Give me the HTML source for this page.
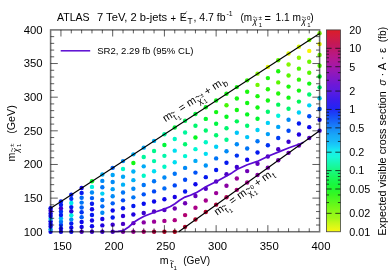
<!DOCTYPE html>
<html><head><meta charset="utf-8"><title>ATLAS stop search</title>
<style>html,body{margin:0;padding:0;background:#fff;overflow:hidden}svg{display:block;will-change:transform}</style></head>
<body>
<svg width="390" height="273" viewBox="0 0 390 273" font-family="'Liberation Sans', sans-serif" fill="#000">
<rect width="390" height="273" fill="#fff"/>
<g stroke="none">
<circle cx="50.60" cy="231.75" r="2.2" fill="#0d07eb"/>
<circle cx="50.60" cy="229.13" r="2.2" fill="#00a4f7"/>
<circle cx="50.60" cy="226.52" r="2.2" fill="#0d07eb"/>
<circle cx="50.60" cy="223.90" r="2.2" fill="#0d07eb"/>
<circle cx="50.60" cy="221.28" r="2.2" fill="#0d07eb"/>
<circle cx="50.60" cy="218.67" r="2.2" fill="#00b1f7"/>
<circle cx="50.60" cy="216.05" r="2.2" fill="#0d07eb"/>
<circle cx="50.60" cy="213.43" r="2.2" fill="#0d07eb"/>
<circle cx="50.60" cy="210.82" r="2.2" fill="#3a00d0"/>
<circle cx="50.60" cy="208.20" r="2.2" fill="#0d07eb"/>
<circle cx="60.95" cy="231.75" r="2.2" fill="#1305e7"/>
<circle cx="60.95" cy="228.39" r="2.2" fill="#0d07eb"/>
<circle cx="60.95" cy="225.02" r="2.2" fill="#0032f2"/>
<circle cx="60.95" cy="221.66" r="2.2" fill="#0075f7"/>
<circle cx="60.95" cy="218.29" r="2.2" fill="#00b1f7"/>
<circle cx="60.95" cy="214.93" r="2.2" fill="#0519ef"/>
<circle cx="60.95" cy="211.56" r="2.2" fill="#0032f2"/>
<circle cx="60.95" cy="208.20" r="2.2" fill="#3a00d0"/>
<circle cx="60.95" cy="204.84" r="2.2" fill="#0519ef"/>
<circle cx="60.95" cy="201.47" r="2.2" fill="#0519ef"/>
<circle cx="71.29" cy="231.75" r="2.2" fill="#0d07eb"/>
<circle cx="71.29" cy="227.64" r="2.2" fill="#0d07eb"/>
<circle cx="71.29" cy="223.53" r="2.2" fill="#0519ef"/>
<circle cx="71.29" cy="219.41" r="2.2" fill="#008af7"/>
<circle cx="71.29" cy="215.30" r="2.2" fill="#00f3dc"/>
<circle cx="71.29" cy="211.19" r="2.2" fill="#2800da"/>
<circle cx="71.29" cy="207.08" r="2.2" fill="#0519ef"/>
<circle cx="71.29" cy="202.97" r="2.2" fill="#00e9eb"/>
<circle cx="71.29" cy="198.86" r="2.2" fill="#0032f2"/>
<circle cx="71.29" cy="194.74" r="2.2" fill="#0519ef"/>
<circle cx="81.64" cy="231.75" r="2.2" fill="#4900c7"/>
<circle cx="81.64" cy="226.89" r="2.2" fill="#1305e7"/>
<circle cx="81.64" cy="222.03" r="2.2" fill="#0d07eb"/>
<circle cx="81.64" cy="217.17" r="2.2" fill="#005ef7"/>
<circle cx="81.64" cy="212.31" r="2.2" fill="#0032f2"/>
<circle cx="81.64" cy="207.45" r="2.2" fill="#005ef7"/>
<circle cx="81.64" cy="202.59" r="2.2" fill="#0075f7"/>
<circle cx="81.64" cy="197.73" r="2.2" fill="#006af7"/>
<circle cx="81.64" cy="192.88" r="2.2" fill="#0519ef"/>
<circle cx="81.64" cy="188.02" r="2.2" fill="#1305e7"/>
<circle cx="91.98" cy="231.75" r="2.2" fill="#3a00d0"/>
<circle cx="91.98" cy="226.14" r="2.2" fill="#0d07eb"/>
<circle cx="91.98" cy="220.54" r="2.2" fill="#1305e7"/>
<circle cx="91.98" cy="214.93" r="2.2" fill="#0519ef"/>
<circle cx="91.98" cy="209.32" r="2.2" fill="#1305e7"/>
<circle cx="91.98" cy="203.72" r="2.2" fill="#0519ef"/>
<circle cx="91.98" cy="198.11" r="2.2" fill="#005ef7"/>
<circle cx="91.98" cy="192.50" r="2.2" fill="#008af7"/>
<circle cx="91.98" cy="186.89" r="2.2" fill="#00f3dc"/>
<circle cx="91.98" cy="181.29" r="2.2" fill="#06f721"/>
<circle cx="102.33" cy="231.75" r="2.2" fill="#3a00d0"/>
<circle cx="102.33" cy="225.40" r="2.2" fill="#1f01e0"/>
<circle cx="102.33" cy="219.04" r="2.2" fill="#1903e4"/>
<circle cx="102.33" cy="212.69" r="2.2" fill="#008af7"/>
<circle cx="102.33" cy="206.33" r="2.2" fill="#006af7"/>
<circle cx="102.33" cy="199.98" r="2.2" fill="#0075f7"/>
<circle cx="102.33" cy="193.62" r="2.2" fill="#00d1f5"/>
<circle cx="102.33" cy="187.27" r="2.2" fill="#0075f7"/>
<circle cx="102.33" cy="180.91" r="2.2" fill="#008af7"/>
<circle cx="102.33" cy="174.56" r="2.2" fill="#00b1f7"/>
<circle cx="112.68" cy="231.75" r="2.2" fill="#4900c7"/>
<circle cx="112.68" cy="224.65" r="2.2" fill="#3a00d0"/>
<circle cx="112.68" cy="217.55" r="2.2" fill="#0519ef"/>
<circle cx="112.68" cy="210.44" r="2.2" fill="#0d07eb"/>
<circle cx="112.68" cy="203.34" r="2.2" fill="#005ef7"/>
<circle cx="112.68" cy="196.24" r="2.2" fill="#008af7"/>
<circle cx="112.68" cy="189.14" r="2.2" fill="#009ef7"/>
<circle cx="112.68" cy="182.04" r="2.2" fill="#008af7"/>
<circle cx="112.68" cy="174.93" r="2.2" fill="#00a4f7"/>
<circle cx="112.68" cy="167.83" r="2.2" fill="#005ef7"/>
<circle cx="123.02" cy="231.75" r="2.2" fill="#7c00ad"/>
<circle cx="123.02" cy="223.90" r="2.2" fill="#4900c7"/>
<circle cx="123.02" cy="216.05" r="2.2" fill="#2800da"/>
<circle cx="123.02" cy="208.20" r="2.2" fill="#0519ef"/>
<circle cx="123.02" cy="200.35" r="2.2" fill="#0048f6"/>
<circle cx="123.02" cy="192.50" r="2.2" fill="#0075f7"/>
<circle cx="123.02" cy="184.65" r="2.2" fill="#00b1f7"/>
<circle cx="123.02" cy="176.80" r="2.2" fill="#00a4f7"/>
<circle cx="123.02" cy="168.95" r="2.2" fill="#00f7c6"/>
<circle cx="123.02" cy="161.10" r="2.2" fill="#008af7"/>
<circle cx="133.37" cy="231.75" r="2.2" fill="#9b0099"/>
<circle cx="133.37" cy="223.15" r="2.2" fill="#6a00b9"/>
<circle cx="133.37" cy="214.56" r="2.2" fill="#1f01e0"/>
<circle cx="133.37" cy="205.96" r="2.2" fill="#0519ef"/>
<circle cx="133.37" cy="197.36" r="2.2" fill="#0075f7"/>
<circle cx="133.37" cy="188.76" r="2.2" fill="#008af7"/>
<circle cx="133.37" cy="180.17" r="2.2" fill="#00b1f7"/>
<circle cx="133.37" cy="171.57" r="2.2" fill="#00b1f7"/>
<circle cx="133.37" cy="162.97" r="2.2" fill="#13f714"/>
<circle cx="133.37" cy="154.37" r="2.2" fill="#00b1f7"/>
<circle cx="143.72" cy="231.75" r="2.2" fill="#b10070"/>
<circle cx="143.72" cy="222.41" r="2.2" fill="#8900a4"/>
<circle cx="143.72" cy="213.06" r="2.2" fill="#3a00d0"/>
<circle cx="143.72" cy="203.72" r="2.2" fill="#070cee"/>
<circle cx="143.72" cy="194.37" r="2.2" fill="#0053f7"/>
<circle cx="143.72" cy="185.03" r="2.2" fill="#0075f7"/>
<circle cx="143.72" cy="175.68" r="2.2" fill="#00f7c6"/>
<circle cx="143.72" cy="166.34" r="2.2" fill="#00aaf7"/>
<circle cx="143.72" cy="156.99" r="2.2" fill="#00f79c"/>
<circle cx="143.72" cy="147.65" r="2.2" fill="#00a4f7"/>
<circle cx="154.06" cy="231.75" r="2.2" fill="#ad003d"/>
<circle cx="154.06" cy="221.66" r="2.2" fill="#9b0099"/>
<circle cx="154.06" cy="211.56" r="2.2" fill="#5200c4"/>
<circle cx="154.06" cy="201.47" r="2.2" fill="#0d07eb"/>
<circle cx="154.06" cy="191.38" r="2.2" fill="#0048f6"/>
<circle cx="154.06" cy="181.29" r="2.2" fill="#0075f7"/>
<circle cx="154.06" cy="171.19" r="2.2" fill="#00def1"/>
<circle cx="154.06" cy="161.10" r="2.2" fill="#00f7aa"/>
<circle cx="154.06" cy="151.01" r="2.2" fill="#00f78d"/>
<circle cx="154.06" cy="140.92" r="2.2" fill="#00b1f7"/>
<circle cx="164.41" cy="231.75" r="2.2" fill="#b00023"/>
<circle cx="164.41" cy="220.91" r="2.2" fill="#a5008e"/>
<circle cx="164.41" cy="210.07" r="2.2" fill="#5200c4"/>
<circle cx="164.41" cy="199.23" r="2.2" fill="#0d07eb"/>
<circle cx="164.41" cy="188.39" r="2.2" fill="#006af7"/>
<circle cx="164.41" cy="177.55" r="2.2" fill="#008af7"/>
<circle cx="164.41" cy="166.71" r="2.2" fill="#00f7c6"/>
<circle cx="164.41" cy="155.87" r="2.2" fill="#00f7aa"/>
<circle cx="164.41" cy="145.03" r="2.2" fill="#00f739"/>
<circle cx="164.41" cy="134.19" r="2.2" fill="#00f79c"/>
<circle cx="174.75" cy="231.75" r="2.2" fill="#b3001c"/>
<circle cx="174.75" cy="220.16" r="2.2" fill="#ad0082"/>
<circle cx="174.75" cy="208.57" r="2.2" fill="#6f00b5"/>
<circle cx="174.75" cy="196.99" r="2.2" fill="#1903e4"/>
<circle cx="174.75" cy="185.40" r="2.2" fill="#0048f6"/>
<circle cx="174.75" cy="173.81" r="2.2" fill="#0075f7"/>
<circle cx="174.75" cy="162.22" r="2.2" fill="#00def1"/>
<circle cx="174.75" cy="150.64" r="2.2" fill="#00def1"/>
<circle cx="174.75" cy="139.05" r="2.2" fill="#00f7c6"/>
<circle cx="174.75" cy="127.46" r="2.2" fill="#00f739"/>
<circle cx="185.10" cy="226.87" r="2.2" fill="#ad0029"/>
<circle cx="185.10" cy="215.08" r="2.2" fill="#b10070"/>
<circle cx="185.10" cy="203.29" r="2.2" fill="#6f00b5"/>
<circle cx="185.10" cy="191.49" r="2.2" fill="#0519ef"/>
<circle cx="185.10" cy="179.70" r="2.2" fill="#0048f6"/>
<circle cx="185.10" cy="167.91" r="2.2" fill="#008af7"/>
<circle cx="185.10" cy="156.11" r="2.2" fill="#00f7d4"/>
<circle cx="185.10" cy="144.32" r="2.2" fill="#00f76f"/>
<circle cx="185.10" cy="132.53" r="2.2" fill="#00f79c"/>
<circle cx="185.10" cy="120.73" r="2.2" fill="#00f758"/>
<circle cx="195.45" cy="219.47" r="2.2" fill="#ad0029"/>
<circle cx="195.45" cy="207.75" r="2.2" fill="#aa0088"/>
<circle cx="195.45" cy="196.03" r="2.2" fill="#6200be"/>
<circle cx="195.45" cy="184.32" r="2.2" fill="#0d07eb"/>
<circle cx="195.45" cy="172.60" r="2.2" fill="#0053f7"/>
<circle cx="195.45" cy="160.88" r="2.2" fill="#00aaf7"/>
<circle cx="195.45" cy="149.16" r="2.2" fill="#00f7d4"/>
<circle cx="195.45" cy="137.44" r="2.2" fill="#06f721"/>
<circle cx="195.45" cy="125.72" r="2.2" fill="#00f76f"/>
<circle cx="195.45" cy="114.00" r="2.2" fill="#00f739"/>
<circle cx="205.79" cy="212.07" r="2.2" fill="#ad0029"/>
<circle cx="205.79" cy="200.43" r="2.2" fill="#a5008e"/>
<circle cx="205.79" cy="188.78" r="2.2" fill="#5200c4"/>
<circle cx="205.79" cy="177.14" r="2.2" fill="#0519ef"/>
<circle cx="205.79" cy="165.49" r="2.2" fill="#0094f7"/>
<circle cx="205.79" cy="153.85" r="2.2" fill="#00def1"/>
<circle cx="205.79" cy="142.21" r="2.2" fill="#00f7c6"/>
<circle cx="205.79" cy="130.56" r="2.2" fill="#00f76f"/>
<circle cx="205.79" cy="118.92" r="2.2" fill="#00f72f"/>
<circle cx="205.79" cy="107.28" r="2.2" fill="#06f721"/>
<circle cx="216.14" cy="204.67" r="2.2" fill="#a90036"/>
<circle cx="216.14" cy="193.10" r="2.2" fill="#9b0099"/>
<circle cx="216.14" cy="181.53" r="2.2" fill="#5200c4"/>
<circle cx="216.14" cy="169.96" r="2.2" fill="#0519ef"/>
<circle cx="216.14" cy="158.39" r="2.2" fill="#0075f7"/>
<circle cx="216.14" cy="146.82" r="2.2" fill="#00d1f5"/>
<circle cx="216.14" cy="135.25" r="2.2" fill="#00f76f"/>
<circle cx="216.14" cy="123.69" r="2.2" fill="#00f742"/>
<circle cx="216.14" cy="112.12" r="2.2" fill="#13f714"/>
<circle cx="216.14" cy="100.55" r="2.2" fill="#0af71a"/>
<circle cx="226.48" cy="197.27" r="2.2" fill="#b10054"/>
<circle cx="226.48" cy="185.77" r="2.2" fill="#8900a4"/>
<circle cx="226.48" cy="174.28" r="2.2" fill="#4900c7"/>
<circle cx="226.48" cy="162.78" r="2.2" fill="#0519ef"/>
<circle cx="226.48" cy="151.29" r="2.2" fill="#008af7"/>
<circle cx="226.48" cy="139.80" r="2.2" fill="#00f78d"/>
<circle cx="226.48" cy="128.30" r="2.2" fill="#00f76f"/>
<circle cx="226.48" cy="116.81" r="2.2" fill="#06f721"/>
<circle cx="226.48" cy="105.31" r="2.2" fill="#44f707"/>
<circle cx="226.48" cy="93.82" r="2.2" fill="#13f714"/>
<circle cx="236.83" cy="189.87" r="2.2" fill="#b1007c"/>
<circle cx="236.83" cy="178.45" r="2.2" fill="#9b0099"/>
<circle cx="236.83" cy="167.03" r="2.2" fill="#3a00d0"/>
<circle cx="236.83" cy="155.61" r="2.2" fill="#0032f2"/>
<circle cx="236.83" cy="144.19" r="2.2" fill="#008af7"/>
<circle cx="236.83" cy="132.77" r="2.2" fill="#00c6f7"/>
<circle cx="236.83" cy="121.35" r="2.2" fill="#00f758"/>
<circle cx="236.83" cy="109.93" r="2.2" fill="#13f714"/>
<circle cx="236.83" cy="98.51" r="2.2" fill="#13f714"/>
<circle cx="236.83" cy="87.09" r="2.2" fill="#13f714"/>
<circle cx="247.18" cy="182.46" r="2.2" fill="#a5008e"/>
<circle cx="247.18" cy="171.12" r="2.2" fill="#6f00b5"/>
<circle cx="247.18" cy="159.78" r="2.2" fill="#0d07eb"/>
<circle cx="247.18" cy="148.43" r="2.2" fill="#0075f7"/>
<circle cx="247.18" cy="137.09" r="2.2" fill="#00c6f7"/>
<circle cx="247.18" cy="125.74" r="2.2" fill="#00f76f"/>
<circle cx="247.18" cy="114.40" r="2.2" fill="#06f721"/>
<circle cx="247.18" cy="103.05" r="2.2" fill="#13f714"/>
<circle cx="247.18" cy="91.71" r="2.2" fill="#1cf70e"/>
<circle cx="247.18" cy="80.36" r="2.2" fill="#2ff709"/>
<circle cx="257.52" cy="175.06" r="2.2" fill="#8900a4"/>
<circle cx="257.52" cy="163.79" r="2.2" fill="#6200be"/>
<circle cx="257.52" cy="152.52" r="2.2" fill="#0519ef"/>
<circle cx="257.52" cy="141.25" r="2.2" fill="#0075f7"/>
<circle cx="257.52" cy="129.98" r="2.2" fill="#00d1f5"/>
<circle cx="257.52" cy="118.71" r="2.2" fill="#00f72f"/>
<circle cx="257.52" cy="107.44" r="2.2" fill="#13f714"/>
<circle cx="257.52" cy="96.17" r="2.2" fill="#1cf70e"/>
<circle cx="257.52" cy="84.90" r="2.2" fill="#6ff700"/>
<circle cx="257.52" cy="73.63" r="2.2" fill="#84f700"/>
<circle cx="267.87" cy="167.66" r="2.2" fill="#7c00ad"/>
<circle cx="267.87" cy="156.47" r="2.2" fill="#5200c4"/>
<circle cx="267.87" cy="145.27" r="2.2" fill="#0032f2"/>
<circle cx="267.87" cy="134.08" r="2.2" fill="#009ef7"/>
<circle cx="267.87" cy="122.88" r="2.2" fill="#00d1f5"/>
<circle cx="267.87" cy="111.69" r="2.2" fill="#00f76f"/>
<circle cx="267.87" cy="100.49" r="2.2" fill="#13f714"/>
<circle cx="267.87" cy="89.30" r="2.2" fill="#24f709"/>
<circle cx="267.87" cy="78.10" r="2.2" fill="#1cf70e"/>
<circle cx="267.87" cy="66.91" r="2.2" fill="#def700"/>
<circle cx="278.22" cy="160.26" r="2.2" fill="#7500b0"/>
<circle cx="278.22" cy="149.14" r="2.2" fill="#4900c7"/>
<circle cx="278.22" cy="138.02" r="2.2" fill="#003df4"/>
<circle cx="278.22" cy="126.90" r="2.2" fill="#00a4f7"/>
<circle cx="278.22" cy="115.78" r="2.2" fill="#00f3dc"/>
<circle cx="278.22" cy="104.66" r="2.2" fill="#00f758"/>
<circle cx="278.22" cy="93.54" r="2.2" fill="#24f709"/>
<circle cx="278.22" cy="82.42" r="2.2" fill="#59f700"/>
<circle cx="278.22" cy="71.30" r="2.2" fill="#1cf70e"/>
<circle cx="278.22" cy="60.18" r="2.2" fill="#59f700"/>
<circle cx="288.56" cy="152.86" r="2.2" fill="#6a00b9"/>
<circle cx="288.56" cy="141.81" r="2.2" fill="#3a00d0"/>
<circle cx="288.56" cy="130.77" r="2.2" fill="#0048f6"/>
<circle cx="288.56" cy="119.72" r="2.2" fill="#008af7"/>
<circle cx="288.56" cy="108.68" r="2.2" fill="#00f76f"/>
<circle cx="288.56" cy="97.63" r="2.2" fill="#13f714"/>
<circle cx="288.56" cy="86.59" r="2.2" fill="#1cf70e"/>
<circle cx="288.56" cy="75.54" r="2.2" fill="#59f700"/>
<circle cx="288.56" cy="64.49" r="2.2" fill="#84f700"/>
<circle cx="288.56" cy="53.45" r="2.2" fill="#def700"/>
<circle cx="298.91" cy="145.46" r="2.2" fill="#6a00b9"/>
<circle cx="298.91" cy="134.49" r="2.2" fill="#1f01e0"/>
<circle cx="298.91" cy="123.52" r="2.2" fill="#0519ef"/>
<circle cx="298.91" cy="112.55" r="2.2" fill="#00d1f5"/>
<circle cx="298.91" cy="101.58" r="2.2" fill="#00f758"/>
<circle cx="298.91" cy="90.60" r="2.2" fill="#13f714"/>
<circle cx="298.91" cy="79.63" r="2.2" fill="#2ff709"/>
<circle cx="298.91" cy="68.66" r="2.2" fill="#4ff703"/>
<circle cx="298.91" cy="57.69" r="2.2" fill="#8cf700"/>
<circle cx="298.91" cy="46.72" r="2.2" fill="#d1f700"/>
<circle cx="309.25" cy="138.06" r="2.2" fill="#5900c2"/>
<circle cx="309.25" cy="127.16" r="2.2" fill="#0d07eb"/>
<circle cx="309.25" cy="116.27" r="2.2" fill="#0048f6"/>
<circle cx="309.25" cy="105.37" r="2.2" fill="#00d1f5"/>
<circle cx="309.25" cy="94.47" r="2.2" fill="#00f76f"/>
<circle cx="309.25" cy="83.58" r="2.2" fill="#13f714"/>
<circle cx="309.25" cy="72.68" r="2.2" fill="#59f700"/>
<circle cx="309.25" cy="61.78" r="2.2" fill="#6ff700"/>
<circle cx="309.25" cy="50.89" r="2.2" fill="#f7f700"/>
<circle cx="309.25" cy="39.99" r="2.2" fill="#6ff700"/>
<circle cx="319.60" cy="130.66" r="2.2" fill="#3a00d0"/>
<circle cx="319.60" cy="119.84" r="2.2" fill="#1305e7"/>
<circle cx="319.60" cy="109.01" r="2.2" fill="#0053f7"/>
<circle cx="319.60" cy="98.19" r="2.2" fill="#00d1f5"/>
<circle cx="319.60" cy="87.37" r="2.2" fill="#00f76f"/>
<circle cx="319.60" cy="76.55" r="2.2" fill="#06f721"/>
<circle cx="319.60" cy="65.73" r="2.2" fill="#4ff703"/>
<circle cx="319.60" cy="54.91" r="2.2" fill="#6ff700"/>
<circle cx="319.60" cy="44.09" r="2.2" fill="#eaf700"/>
<circle cx="319.60" cy="33.26" r="2.2" fill="#7bf700"/>
</g>
<polyline fill="none" stroke="#5a0ad2" stroke-width="1.7" stroke-linejoin="round" points="112.5,231.5 118.0,231.3 123.0,230.7 128.7,227.0 133.8,222.3 139.0,219.0 144.1,216.2 154.4,212.3 164.2,209.1 170.4,206.5 175.0,203.7 179.6,200.3 185.0,197.1 190.4,195.2 195.8,192.9 201.2,189.8 205.8,186.8 216.5,181.4 226.5,176.0 231.9,172.9 237.3,169.3 247.3,164.7 257.3,161.4 268.6,156.0 278.8,151.9 289.1,147.8 300.4,143.7 303.5,142.3"/>
<line x1="50.60" y1="208.34" x2="319.60" y2="33.40" stroke="#000" stroke-width="1.15"/>
<line x1="178.69" y1="231.75" x2="319.60" y2="130.66" stroke="#000" stroke-width="1.15"/>
<g stroke="#000" stroke-opacity="0.85" stroke-width="0.75" fill="none">
<rect x="50.60" y="29.90" width="269.00" height="201.85" stroke="#000" stroke-opacity="0.55" stroke-width="1.55"/>
<path d="M60.95 29.90v6.60M60.95 231.75v-6.60M71.29 29.90v3.50M71.29 231.75v-3.50M81.64 29.90v3.50M81.64 231.75v-3.50M91.98 29.90v3.50M91.98 231.75v-3.50M102.33 29.90v3.50M102.33 231.75v-3.50M112.68 29.90v6.60M112.68 231.75v-6.60M123.02 29.90v3.50M123.02 231.75v-3.50M133.37 29.90v3.50M133.37 231.75v-3.50M143.72 29.90v3.50M143.72 231.75v-3.50M154.06 29.90v3.50M154.06 231.75v-3.50M164.41 29.90v6.60M164.41 231.75v-6.60M174.75 29.90v3.50M174.75 231.75v-3.50M185.10 29.90v3.50M185.10 231.75v-3.50M195.45 29.90v3.50M195.45 231.75v-3.50M205.79 29.90v3.50M205.79 231.75v-3.50M216.14 29.90v6.60M216.14 231.75v-6.60M226.48 29.90v3.50M226.48 231.75v-3.50M236.83 29.90v3.50M236.83 231.75v-3.50M247.18 29.90v3.50M247.18 231.75v-3.50M257.52 29.90v3.50M257.52 231.75v-3.50M267.87 29.90v6.60M267.87 231.75v-6.60M278.22 29.90v3.50M278.22 231.75v-3.50M288.56 29.90v3.50M288.56 231.75v-3.50M298.91 29.90v3.50M298.91 231.75v-3.50M309.25 29.90v3.50M309.25 231.75v-3.50M50.60 225.02h3.60M319.60 225.02h-3.60M50.60 218.29h3.60M319.60 218.29h-3.60M50.60 211.56h3.60M319.60 211.56h-3.60M50.60 204.84h3.60M319.60 204.84h-3.60M50.60 198.11h7.20M319.60 198.11h-7.20M50.60 191.38h3.60M319.60 191.38h-3.60M50.60 184.65h3.60M319.60 184.65h-3.60M50.60 177.92h3.60M319.60 177.92h-3.60M50.60 171.19h3.60M319.60 171.19h-3.60M50.60 164.47h7.20M319.60 164.47h-7.20M50.60 157.74h3.60M319.60 157.74h-3.60M50.60 151.01h3.60M319.60 151.01h-3.60M50.60 144.28h3.60M319.60 144.28h-3.60M50.60 137.55h3.60M319.60 137.55h-3.60M50.60 130.82h7.20M319.60 130.82h-7.20M50.60 124.10h3.60M319.60 124.10h-3.60M50.60 117.37h3.60M319.60 117.37h-3.60M50.60 110.64h3.60M319.60 110.64h-3.60M50.60 103.91h3.60M319.60 103.91h-3.60M50.60 97.18h7.20M319.60 97.18h-7.20M50.60 90.46h3.60M319.60 90.46h-3.60M50.60 83.73h3.60M319.60 83.73h-3.60M50.60 77.00h3.60M319.60 77.00h-3.60M50.60 70.27h3.60M319.60 70.27h-3.60M50.60 63.54h7.20M319.60 63.54h-7.20M50.60 56.81h3.60M319.60 56.81h-3.60M50.60 50.09h3.60M319.60 50.09h-3.60M50.60 43.36h3.60M319.60 43.36h-3.60M50.60 36.63h3.60M319.60 36.63h-3.60"/>
</g>
<defs><linearGradient id="cb" x1="0" y1="29.9" x2="0" y2="231.8" gradientUnits="userSpaceOnUse">
<stop offset="0.0005" stop-color="#dc1c28"/>
<stop offset="0.0352" stop-color="#d01c40"/>
<stop offset="0.0699" stop-color="#c41858"/>
<stop offset="0.0921" stop-color="#c01868"/>
<stop offset="0.1095" stop-color="#bc1878"/>
<stop offset="0.1293" stop-color="#b81888"/>
<stop offset="0.1541" stop-color="#b01898"/>
<stop offset="0.1813" stop-color="#a418a8"/>
<stop offset="0.2086" stop-color="#9418b8"/>
<stop offset="0.2333" stop-color="#8418c4"/>
<stop offset="0.2482" stop-color="#7c18cc"/>
<stop offset="0.2730" stop-color="#6c18d8"/>
<stop offset="0.3027" stop-color="#5c1ce0"/>
<stop offset="0.3473" stop-color="#3c1cec"/>
<stop offset="0.3869" stop-color="#2424f4"/>
<stop offset="0.4216" stop-color="#1848f8"/>
<stop offset="0.4464" stop-color="#1860f8"/>
<stop offset="0.4860" stop-color="#1888f8"/>
<stop offset="0.5207" stop-color="#18a8f8"/>
<stop offset="0.5504" stop-color="#18b8f8"/>
<stop offset="0.5752" stop-color="#18d0f8"/>
<stop offset="0.5950" stop-color="#18e8f0"/>
<stop offset="0.6074" stop-color="#18f0e8"/>
<stop offset="0.6297" stop-color="#18f8d8"/>
<stop offset="0.6544" stop-color="#18f8b8"/>
<stop offset="0.6792" stop-color="#18f898"/>
<stop offset="0.6966" stop-color="#18f880"/>
<stop offset="0.7337" stop-color="#18f858"/>
<stop offset="0.7634" stop-color="#18f840"/>
<stop offset="0.7882" stop-color="#20f830"/>
<stop offset="0.8179" stop-color="#38f820"/>
<stop offset="0.8427" stop-color="#50f820"/>
<stop offset="0.8675" stop-color="#68f818"/>
<stop offset="0.8922" stop-color="#80f818"/>
<stop offset="0.9086" stop-color="#90f818"/>
<stop offset="0.9319" stop-color="#a0f818"/>
<stop offset="0.9517" stop-color="#c0f818"/>
<stop offset="0.9715" stop-color="#d8f818"/>
<stop offset="0.9988" stop-color="#f8f810"/>
</linearGradient></defs>
<rect x="326.40" y="29.90" width="14.10" height="201.85" fill="url(#cb)" stroke="#444" stroke-width="0.8"/>
<path d="M326.40 48.31h5.2M340.50 48.31h-5.2M326.40 66.71h5.2M340.50 66.71h-5.2M326.40 91.05h5.2M340.50 91.05h-5.2M326.40 109.45h5.2M340.50 109.45h-5.2M326.40 127.86h5.2M340.50 127.86h-5.2M326.40 152.20h5.2M340.50 152.20h-5.2M326.40 170.60h5.2M340.50 170.60h-5.2M326.40 189.01h5.2M340.50 189.01h-5.2M326.40 213.34h5.2M340.50 213.34h-5.2M326.40 51.11h2.6M340.50 51.11h-2.6M326.40 54.23h2.6M340.50 54.23h-2.6M326.40 57.78h2.6M340.50 57.78h-2.6M326.40 61.87h2.6M340.50 61.87h-2.6M326.40 72.64h2.6M340.50 72.64h-2.6M326.40 80.28h2.6M340.50 80.28h-2.6M326.40 112.25h2.6M340.50 112.25h-2.6M326.40 115.38h2.6M340.50 115.38h-2.6M326.40 118.93h2.6M340.50 118.93h-2.6M326.40 123.02h2.6M340.50 123.02h-2.6M326.40 133.79h2.6M340.50 133.79h-2.6M326.40 141.43h2.6M340.50 141.43h-2.6M326.40 173.40h2.6M340.50 173.40h-2.6M326.40 176.53h2.6M340.50 176.53h-2.6M326.40 180.07h2.6M340.50 180.07h-2.6M326.40 184.17h2.6M340.50 184.17h-2.6M326.40 194.94h2.6M340.50 194.94h-2.6M326.40 202.58h2.6M340.50 202.58h-2.6" stroke="#111" stroke-width="0.8" fill="none"/>
<g font-size="10.8">
<text x="23.7" y="235.60" textLength="18.9" lengthAdjust="spacingAndGlyphs">100</text>
<text x="23.7" y="201.96" textLength="18.9" lengthAdjust="spacingAndGlyphs">150</text>
<text x="23.7" y="168.32" textLength="18.9" lengthAdjust="spacingAndGlyphs">200</text>
<text x="23.7" y="134.67" textLength="18.9" lengthAdjust="spacingAndGlyphs">250</text>
<text x="23.7" y="101.03" textLength="18.9" lengthAdjust="spacingAndGlyphs">300</text>
<text x="23.7" y="67.39" textLength="18.9" lengthAdjust="spacingAndGlyphs">350</text>
<text x="23.7" y="33.75" textLength="18.9" lengthAdjust="spacingAndGlyphs">400</text>
<text x="52.90" y="249.8" textLength="18.9" lengthAdjust="spacingAndGlyphs">150</text>
<text x="104.63" y="249.8" textLength="18.9" lengthAdjust="spacingAndGlyphs">200</text>
<text x="156.36" y="249.8" textLength="18.9" lengthAdjust="spacingAndGlyphs">250</text>
<text x="208.09" y="249.8" textLength="18.9" lengthAdjust="spacingAndGlyphs">300</text>
<text x="259.82" y="249.8" textLength="18.9" lengthAdjust="spacingAndGlyphs">350</text>
<text x="311.55" y="249.8" textLength="18.9" lengthAdjust="spacingAndGlyphs">400</text>
<text x="349.2" y="33.75">20</text>
<text x="349.2" y="52.16">10</text>
<text x="349.2" y="70.56">5</text>
<text x="349.2" y="94.90">2</text>
<text x="349.2" y="113.30">1</text>
<text x="349.2" y="131.71">0.5</text>
<text x="349.2" y="156.05">0.2</text>
<text x="349.2" y="174.45">0.1</text>
<text x="349.2" y="192.86">0.05</text>
<text x="349.2" y="217.19">0.02</text>
<text x="349.2" y="235.60">0.01</text>
</g>
<g font-size="10.3">
<text x="57.0" y="20.5" textLength="32.6" lengthAdjust="spacingAndGlyphs">ATLAS</text>
<text x="97.0" y="20.5" textLength="70.2" lengthAdjust="spacingAndGlyphs">7 TeV, 2 b-jets</text>
<text x="170.4" y="21.7" textLength="5.6" lengthAdjust="spacingAndGlyphs">+</text>
<text x="179.7" y="20.5" textLength="7.0" lengthAdjust="spacingAndGlyphs">E</text>
<path d="M181.6 17.8L186.9 11.2" stroke="#333" stroke-width="0.6" fill="none"/>
<text x="187.6" y="23.7" font-size="8.4">T</text>
<text x="193.5" y="20.5" textLength="32" lengthAdjust="spacingAndGlyphs">, 4.7 fb</text>
<text x="226.5" y="16.2" font-size="7.6" textLength="6.2" lengthAdjust="spacingAndGlyphs">-1</text>
<text x="240.4" y="20.5" textLength="11.6" lengthAdjust="spacingAndGlyphs">(m</text>
<text x="252.8" y="24.0" font-size="8.2" font-style="italic">χ</text>
<path d="M253.20 17.50q1.00 -1.30 2.00 0t2.00 0" fill="none" stroke="#000" stroke-width="0.60"/>
<text x="258.6" y="19.7" font-size="6.2">±</text>
<text x="258.7" y="26.5" font-size="6.0">1</text>
<text x="264.6" y="21.9" textLength="6.4" lengthAdjust="spacingAndGlyphs">=</text>
<text x="275.6" y="20.5" textLength="25.4" lengthAdjust="spacingAndGlyphs">1.1 m</text>
<text x="301.4" y="24.0" font-size="8.2" font-style="italic">χ</text>
<path d="M301.90 17.50q1.00 -1.30 2.00 0t2.00 0" fill="none" stroke="#000" stroke-width="0.60"/>
<text x="306.9" y="19.7" font-size="6.2">0</text>
<text x="307.2" y="26.5" font-size="6.0">1</text>
<text x="310.2" y="20.5">)</text>
</g>
<line x1="60.7" y1="50.8" x2="90.2" y2="50.8" stroke="#5a0ad2" stroke-width="1.5"/>
<text x="97.2" y="54.4" font-size="9.7" textLength="96.2" lengthAdjust="spacingAndGlyphs">SR2, 2.29 fb (95% CL)</text>
<g font-size="10.6">
<text x="159.8" y="263.8">m</text>
<text x="170.4" y="268.2" font-size="8.6">t</text>
<path d="M170.00 261.00q1.00 -1.30 2.00 0t2.00 0" fill="none" stroke="#000" stroke-width="0.60"/>
<text x="173.6" y="270.4" font-size="6.0">1</text>
<text x="183.2" y="263.8" textLength="27" lengthAdjust="spacingAndGlyphs">(GeV)</text>
</g>
<g transform="translate(15.4 161.5) rotate(-90)" font-size="10.6">
<text x="0" y="0">m</text>
<text x="9.0" y="3.6" font-size="8.2" font-style="italic">χ</text>
<path d="M9.60 -3.40q1.00 -1.30 2.00 0t2.00 0" fill="none" stroke="#000" stroke-width="0.60"/>
<text x="14.6" y="-1.0" font-size="6.2">±</text>
<text x="14.6" y="5.8" font-size="6.0">1</text>
<text x="27.7" y="0" textLength="28.6" lengthAdjust="spacingAndGlyphs">(GeV)</text>
</g>
<g transform="translate(386.2 235.7) rotate(-90)" font-size="10.4">
<text x="0" y="0" textLength="144.6" lengthAdjust="spacingAndGlyphs">Expected visible cross section</text>
<text x="150.1" y="0" font-style="italic" textLength="6.0" lengthAdjust="spacingAndGlyphs">σ</text>
<text x="159.2" y="0" textLength="28.6" lengthAdjust="spacingAndGlyphs">· A · ε</text>
<text x="193.4" y="0" textLength="15.4" lengthAdjust="spacingAndGlyphs">(fb)</text>
</g>
<g transform="translate(165.6 122.3) rotate(-33.04) scale(1.035)" font-size="10.6">
<text x="0" y="0">m</text>
<text x="9.2" y="3.6" font-size="8.2">t</text>
<path d="M8.70 -4.00q0.95 -1.30 1.90 0t1.90 0" fill="none" stroke="#000" stroke-width="0.70"/>
<text x="12.0" y="5.6" font-size="5.8">1</text>
<text x="18.0" y="0">= m</text>
<text x="36.6" y="3.6" font-size="8.4">χ</text>
<path d="M37.40 -4.00q1.00 -1.30 2.00 0t2.00 0" fill="none" stroke="#000" stroke-width="0.70"/>
<text x="42.0" y="-1.0" font-size="6.0">±</text>
<text x="41.8" y="5.8" font-size="6.0">1</text>
<text x="47.6" y="0">+ m</text>
<text x="66.4" y="3.0" font-size="8.4">b</text>
</g>
<g transform="translate(217.3 215.8) rotate(-35.58) scale(1.03)" font-size="10.6">
<text x="0" y="0">m</text>
<text x="9.2" y="3.6" font-size="8.2">t</text>
<path d="M8.70 -4.00q0.95 -1.30 1.90 0t1.90 0" fill="none" stroke="#000" stroke-width="0.70"/>
<text x="12.0" y="5.6" font-size="5.8">1</text>
<text x="18.0" y="0">= m</text>
<text x="36.6" y="3.6" font-size="8.4">χ</text>
<path d="M37.40 -4.00q1.00 -1.30 2.00 0t2.00 0" fill="none" stroke="#000" stroke-width="0.70"/>
<text x="42.0" y="-1.0" font-size="6.0">0</text>
<text x="41.8" y="5.8" font-size="6.0">1</text>
<text x="47.6" y="0">+ m</text>
<text x="66.4" y="3.0" font-size="8.4">t</text>
</g>
</svg>
</body></html>
